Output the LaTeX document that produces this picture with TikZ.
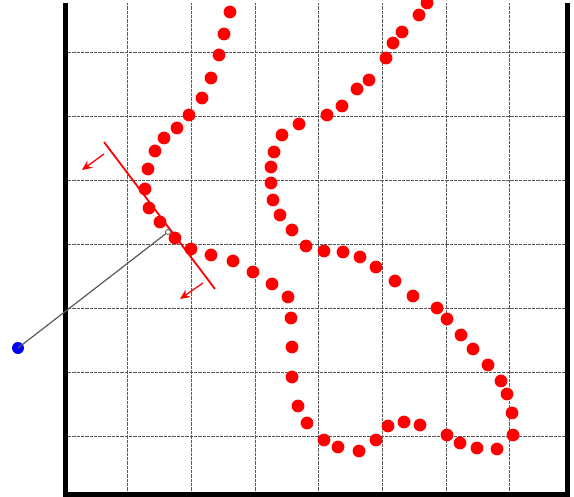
\documentclass[tikz,border=0pt]{standalone}
\usetikzlibrary{arrows.meta}
\begin{document}
\begin{tikzpicture}[x=1pt,y=-1pt,
  gridline/.style={line width=0.9pt, black!65, dash pattern=on 0.65pt off 0.65pt},
  border/.style={line width=5pt, black},
  reddot/.style={fill=red, draw=none},
  redline/.style={red, line width=1.8pt},
  normalarrow/.style={red, line width=1.3pt, -{Stealth[length=10pt,width=9pt]}},
  ray/.style={black!65, line width=1.2pt},
  source/.style={circle, fill=blue, inner sep=0pt, minimum size=12pt},
  foot/.style={circle, draw=black!65, fill=white, line width=0.8pt, inner sep=0pt, minimum size=5pt}]
\useasboundingbox (0,0) rectangle (574,497);
% grid
\foreach \x in {127,191,255,318,382,446,509} \draw[gridline] (\x,3) -- (\x,495);
\foreach \y in {52,116,180,244,308,372,436} \draw[gridline] (65,\y) -- (567,\y);
% borders
\draw[border] (65,3) -- (65,495) -- (567,495) -- (567,3);
% red dots
\foreach \p in {(427,3),(419,15),(402,32),(393,43),(386,58),(369,80),(357,89),(342,106),(327,115),(299,124),(282,135),(274,152),(271,167),(271,183),(273,200),(280,215),(292,230),(306,246),(324,251),(343,252),(360,257),(376,267),(395,281),(413,296),(437,308),(447,319),(461,335),(473,349),(488,365),(501,381),(507,394),(512,413),(513,435),(497,449),(477,448),(460,443),(447,435),
 (420,425),(404,422),(388,426),(376,440),(359,451),(338,447),(324,440),(307,423),(298,406),(292,377),(292,347),(291,318),(288,297),(272,284),(253,272),(233,261),(211,255),(191,249),(175,238),(160,222),(149,208),(145,189),(148,169),(155,151),(164,138),(177,128),(189,115),(202,98),(211,78),(219,55),(224,34),(230,12)}
  \fill[reddot] \p circle (6.4);
% red line and normals
\coordinate (l1) at (104,142);
\coordinate (l2) at (215,289);
\draw[redline] (l1) -- (l2);
\coordinate (a1s) at (104,154);
\coordinate (a1e) at (82,170);
\coordinate (a2s) at (203,283);
\coordinate (a2e) at (180,299);
\draw[normalarrow] (a1s) -- (a1e);
\draw[normalarrow] (a2s) -- (a2e);
% ray from source to foot
\node[source] (src) at (18,348) {};
\coordinate (ft) at (168,232);
\draw[ray] (src.center) -- (ft);
\node[foot] (ftc) at (ft) {};
\end{tikzpicture}
\end{document}
